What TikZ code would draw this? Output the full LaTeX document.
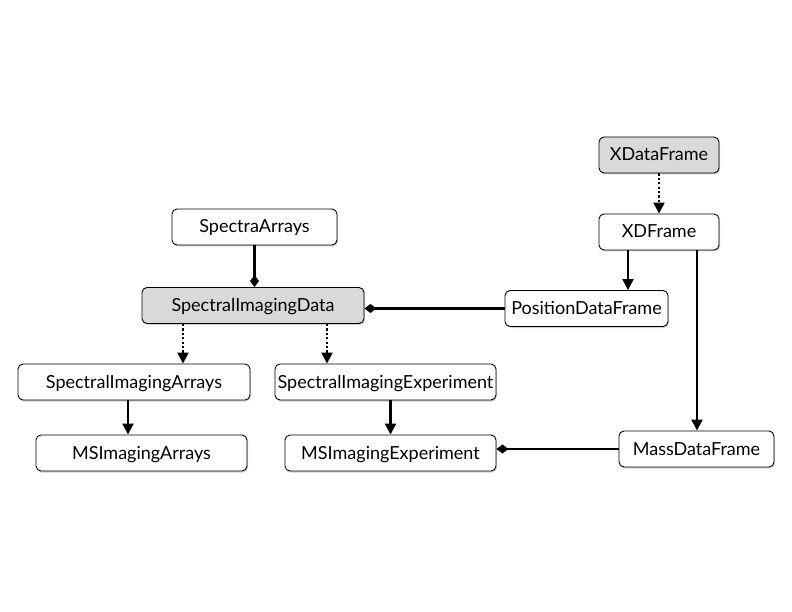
\documentclass[tikz,border=0pt]{standalone}
\usepackage{fontspec}
\setmainfont{Lato}
\usetikzlibrary{arrows.meta,shadows}
\begin{document}
\begin{tikzpicture}[x=1pt,y=-1pt,
  cls/.style={draw=black,line width=0.9pt,rounded corners=5pt,fill=white,
    minimum height=36pt,inner sep=0pt,text height=12.5pt,text depth=0.5pt,
    font=\fontsize{18}{21}\selectfont,
    drop shadow={shadow xshift=1pt,shadow yshift=-1.5pt,opacity=0.3,fill=black!60}},
  grey/.style={fill=black!15},
  inh/.style={line width=2.2pt,-{Triangle[width=11pt,length=11pt]}},
  virt/.style={line width=2.2pt,dash pattern=on 2.2pt off 2.2pt,-{Triangle[width=11pt,length=11pt]}},
  comp/.style={line width=2.2pt,-{Diamond[width=9pt,length=12pt]}}]
\useasboundingbox (0,0) rectangle (792,612);
\fill[white] (0,0) rectangle (792,612);
\node[cls,grey,minimum width=120pt] (xdf) at (659,155) {XDataFrame};
\node[cls,minimum width=120pt] (xd) at (659,232) {XDFrame};
\node[cls,minimum width=165pt] (sa) at (254.5,227) {SpectraArrays};
\node[cls,grey,minimum width=222pt] (sid) at (253,305.5) {SpectralImagingData};
\node[cls,minimum width=163pt] (pdf) at (586.5,308.5) {PositionDataFrame};
\node[cls,minimum width=232pt] (sia) at (134,382) {SpectralImagingArrays};
\node[cls,minimum width=221pt] (sie) at (385.5,382) {SpectralImagingExperiment};
\node[cls,minimum width=211pt] (msia) at (141.5,453) {MSImagingArrays};
\node[cls,minimum width=211pt] (msie) at (390.5,453) {MSImagingExperiment};
\node[cls,minimum width=155pt] (mdf) at (696.5,449) {MassDataFrame};
\draw[virt] (xdf.south) -- (xd.north);
\draw[inh] ([xshift=-31pt]xd.south) coordinate (p1) -- (p1 |- pdf.north);
\draw[inh] ([xshift=38pt]xd.south) coordinate (p2) -- (p2 |- mdf.north);
\draw[comp] (sa.south) -- (sa.south |- sid.north);
\draw[comp] (pdf.west) -- (pdf.west -| sid.east);
\draw[virt] ([xshift=-70pt]sid.south) coordinate (p3) -- (p3 |- sia.north);
\draw[virt] ([xshift=74pt]sid.south) coordinate (p4) -- (p4 |- sie.north);
\draw[inh] ([xshift=-6pt]sia.south) coordinate (p5) -- (p5 |- msia.north);
\draw[inh] ([xshift=5pt]sie.south) coordinate (p6) -- (p6 |- msie.north);
\draw[comp] (mdf.west) -- (mdf.west -| msie.east);
\end{tikzpicture}
\end{document}
